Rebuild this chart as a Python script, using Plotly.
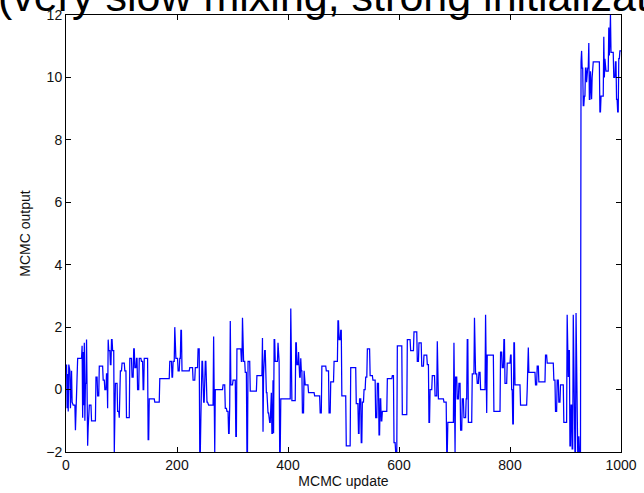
import numpy as np
import plotly.graph_objects as go

# Run-length description of the MCMC trace:
# each state value and how many consecutive updates it was held.
state_values = [
    0.8, -0.6, 0.5, -0.7, 0.8,
    0.6, -0.6, 0.6, -0.4,
    -0.5, -1.3, -0.5, 1.0,
    1.4, -0.9, 1.2, -0.5, 1.5, -1.0,
    0.2, 1.6, -0.8, -1.8, -1.2, -0.6,
    -0.5, -1.0, 0.4, -0.2, 0.75,
    0.3, 0.0, 0.5, -0.6, 1.6, 1.25, 0.8,
    1.6, 1.25, -2.0,
    0.2, -0.7, -0.9, 0.6, 0.85, 0.6,
    -0.9, 1.0, 0.4, 1.3, 0.7, 1.0,
    0.0, 1.0, 0.9, 0.0, 1.0,
    1.0, -1.6, -0.3, -0.4, 0.35,
    0.9, 0.4, 0.9,
    2.0, 1.0, 0.6, 1.0, 1.9, 0.6,
    0.6, 0.7, 0.3, 0.7, 1.3, -2.0, -0.9, 0.9, -0.4, 0.9, -0.4, -0.5, 1.7, -2.0,
    0.0, 0.15,
    -0.6, -0.7, -1.4, -0.5,
    2.2, 0.15, 0.3, -1.5, 1.3,
    0.9, 2.3, 0.9, 0.55, -2.0, 0.9,
    -0.05, 0.45,
    1.65, -1.35, 0.5, 1.25, -0.1,
    -0.75, -1.05, -0.1, -1.4, 0.3, -1.4,
    1.6, 0.9, 1.5, 0.9, -2.0,
    -0.3, 2.6, -0.35,
    1.5, 0.8, 1.2, 0.4, 1.0, 0.6, -0.75, 0.6,
    0.15, -0.1, -0.2, -0.75,
    0.75, 0.6, -0.75, 0.25, 0.9,
    2.2, 1.6, 1.9, -0.2, -1.8,
    0.7, -0.45, -1.4, -0.3, -1.7, -0.4,
    0.0, 0.4, 1.3, 0.45, 0.3,
    -0.9, 0.2, -1.45, -0.3, -1.0, -0.7, 0.35,
    0.45, -1.7, -2.0, 1.4, -0.8,
    1.6, 1.25, 1.85, 0.9, 1.5, 0.75, 1.1,
    0.8, -1.05, 0.0, 0.45, -0.2,
    1.55, -0.3, -0.4, -2.0, -1.05,
    1.5, -2.0, 0.4, -0.3, 0.2, -1.3,
    -0.3, -0.9, -0.3, 1.6, -1.05, -1.05,
    0.5, 2.3, 0.5, 0.2, 0.55, 0.0,
    2.4, -0.75, 1.1, -0.7,
    1.2, 0.7, 1.6, 0.2, 0.85,
    1.1, 0.0, -1.1, 1.5, 0.15, -0.5,
    0.0, 1.35, 0.55, 0.15, 0.75, 0.25, 1.1, 0.85,
    0.3, -0.7, 0.3, -0.4, 0.15, -1.05,
    2.4, 0.4, 1.25, -1.8, -0.5,
    -1.9, 2.4, -0.5, -2.0, 2.45, 0.5, -2.0, -1.5, -2.0,
    10.5, 10.85, 10.3, 9.1, 9.4, 10.3, 9.85, 10.3,
    11.1, 9.3, 10.2, 9.8, 9.3, 10.0,
    10.5, 8.9, 9.4, 11.3, 10.0, 10.6, 10.2,
    11.6, 10.7, 11.2, 12.0, 10.8,
    10.0, 10.5, 9.3, 8.9, 10.6, 10.85,
]
state_lengths = [
    1, 1, 1, 1, 1,
    2, 1, 2, 1,
    5, 1, 2, 9,
    1, 1, 1, 1, 1, 1,
    2, 1, 1, 1, 1, 1,
    4, 8, 3, 3, 7,
    3, 3, 2, 1, 1, 3, 2,
    2, 3, 1,
    5, 3, 1, 4, 5, 3,
    6, 4, 3, 2, 3, 2,
    3, 4, 3, 2, 5,
    2, 2, 10, 9, 18,
    4, 2, 3,
    1, 5, 3, 2, 2, 8,
    6, 6, 4, 5, 3, 2, 1, 3, 3, 3, 3, 10, 1, 2,
    14, 4,
    3, 3, 2, 1,
    1, 4, 5, 2, 8,
    2, 1, 4, 3, 2, 4,
    12, 10,
    1, 1, 1, 3, 3,
    3, 3, 2, 2, 1, 1,
    2, 5, 1, 2, 2,
    18, 1, 8,
    2, 3, 1, 3, 1, 2, 3, 1,
    7, 11, 10, 3,
    8, 5, 3, 6, 7,
    2, 3, 2, 8, 8,
    10, 4, 2, 3, 2, 3,
    3, 3, 5, 5, 5,
    3, 3, 2, 2, 2, 9, 9,
    3, 3, 3, 9, 9,
    6, 6, 6, 3, 5, 4, 6,
    3, 2, 4, 5, 4,
    1, 11, 5, 2, 11,
    1, 2, 3, 3, 3, 3,
    3, 4, 2, 2, 4, 3,
    4, 1, 4, 3, 3, 9,
    1, 2, 12, 12,
    3, 3, 2, 4, 6,
    2, 2, 2, 2, 10, 12,
    1, 2, 12, 3, 3, 12, 3, 12,
    3, 3, 3, 3, 6, 6,
    1, 2, 2, 2, 2,
    2, 1, 2, 2, 1, 2, 2, 1, 3,
    1, 1, 2, 2, 2, 2, 1, 3,
    1, 2, 1, 1, 1, 1,
    13, 2, 5, 1, 1, 1, 6,
    1, 1, 1, 1, 5,
    3, 2, 2, 2, 2, 3,
]

x_ticks = [0, 200, 400, 600, 800, 1000]
y_ticks = [-2, 0, 2, 4, 6, 8, 10, 12]
title_text = "(very slow mixing, strong initialization)"

trace = np.repeat(np.array(state_values), np.array(state_lengths))
updates = np.arange(1, len(trace) + 1)

fig = go.Figure()
fig.add_trace(go.Scatter(
    x=updates, y=trace, mode="lines",
    line=dict(color="#0000ff", width=1.25),
    showlegend=False, hoverinfo="skip",
))

font_family = "Liberation Sans, Arial, sans-serif"
axis_common = dict(
    showline=True, linecolor="black", linewidth=1, mirror="ticks",
    ticks="inside", ticklen=5, tickcolor="black", tickwidth=1,
    showgrid=False, zeroline=False, automargin=False,
    tickfont=dict(family=font_family, size=14, color="#111111"),
)

fig.update_layout(
    width=644, height=493,
    margin=dict(l=66, r=23, t=15, b=41, autoexpand=False),
    paper_bgcolor="white", plot_bgcolor="white",
    xaxis=dict(range=[0, 1000], tickvals=x_ticks, **axis_common,
               title=dict(text="MCMC update", standoff=2,
                          font=dict(family=font_family, size=14, color="#111111"))),
    yaxis=dict(range=[-2, 12], tickvals=y_ticks, **axis_common,
               title=dict(text="MCMC output", standoff=12,
                          font=dict(family=font_family, size=14, color="#111111"))),
    annotations=[dict(
        text=title_text, xref="paper", yref="paper",
        x=(-4 - 66) / 555, y=(452 - 22) / 437,
        xanchor="left", yanchor="bottom", showarrow=False,
        font=dict(family=font_family, size=43, color="black"),
    )],
)

fig.write_html("out.html")
